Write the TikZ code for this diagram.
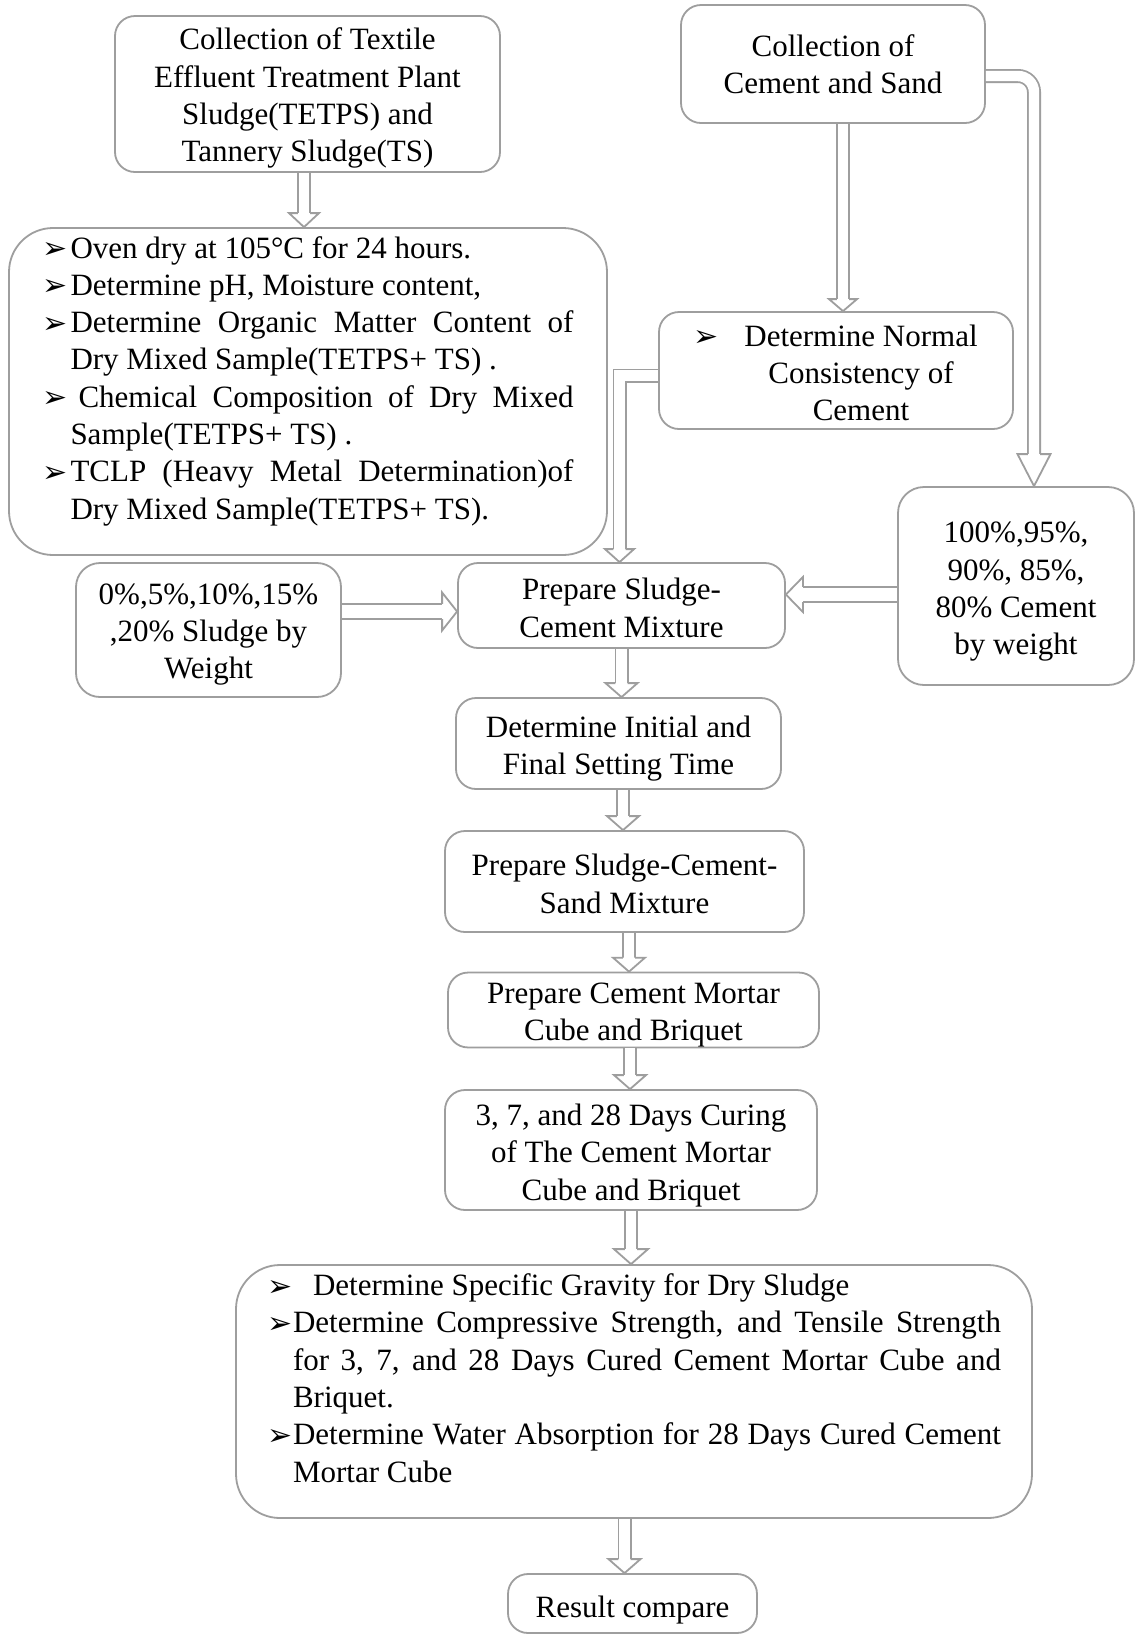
\documentclass[tikz,border=0pt]{standalone}
\usepackage{fontspec}
\setmainfont{Liberation Serif}
\newfontfamily\dvfont{DejaVu Sans}
\usetikzlibrary{calc}
\definecolor{bd}{gray}{0.62}
\newcommand\bulsym{{\dvfont\fontsize{15}{12}\selectfont\raisebox{-0.3pt}{➢}}}
\newcommand\bulw[1]{\makebox[#1][l]{\bulsym}}
\newcommand\lo[1]{\rule{0pt}{#1}}
\tikzset{
  box/.style={draw=bd, line width=0.9pt, rounded corners=10pt, inner sep=0pt, align=center,
    font=\fontsize{15.5}{18.65}\selectfont, fill=white},
  tube/.style={draw=bd, line width=0.9pt, double=white, double distance=5.2pt, line join=miter},
  wtube/.style={draw=bd, line width=0.9pt, double=white, double distance=6.7pt},
  pics/ahead/.style n args={3}{code={
    \fill[white] (0,0) -- (-#1,#2) -- (-#1,-#2) -- cycle;
    \draw[draw=bd, line width=0.9pt, line join=miter] (-#1,#3) -- (-#1,#2) -- (0,0) -- (-#1,-#2) -- (-#1,-#3);
  }},
}
\newcommand\vdown[4]{%
  \draw[tube] (#1) -- ($(#2)+(0,{#3-0.6pt})$);
  \pic[rotate=-90] at (#2) {ahead={#3}{#4}{3.05pt}};
}
\begin{document}
\begin{tikzpicture}[x=0.5pt,y=-0.5pt]
\fill[white] (0,0) rectangle (1135,1635);
\useasboundingbox (0,0) rectangle (1135,1635);

% boxes
\node[box, minimum width=192.5pt, minimum height=78pt] (t1) at (307.5,94)
  {\lo{15pt}Collection of Textile\\Effluent Treatment Plant\\Sludge(TETPS) and\\Tannery Sludge(TS)};
\node[box, minimum width=152pt, minimum height=59pt] (cs) at (833,64)
  {Collection of\\Cement and Sand};
\node[box, rounded corners=22pt, minimum width=299pt, minimum height=163.5pt] (ov) at (308,391.5)
  {\parbox{265.5pt}{\raggedright
   \bulw{14pt}Oven dry at 105°C for 24 hours.\\
   \bulw{14pt}Determine pH, Moisture content,\\
   \bulw{14pt}\makebox[251.5pt][s]{Determine Organic Matter Content of}\\
   \hspace*{14pt}Dry Mixed Sample(TETPS+ TS) .\\
   \bulw{14pt}\makebox[251.5pt][s]{\hspace{4pt}Chemical Composition of Dry Mixed}\\
   \hspace*{14pt}Sample(TETPS+ TS) .\\
   \bulw{14pt}\makebox[251.5pt][s]{TCLP (Heavy Metal Determination)of}\\
   \hspace*{14pt}Dry Mixed Sample(TETPS+ TS).\par\vspace*{10.5pt}}};
\node[box, minimum width=177pt, minimum height=58.5pt] (nc) at (836,370.5)
  {\hspace*{25pt}\llap{\bulsym\hspace{13pt}}\lo{13pt}Determine Normal\\
   \hspace*{25pt}Consistency of\\
   \hspace*{25pt}Cement};
\node[box, rounded corners=13pt, minimum width=118pt, minimum height=99pt] (cp) at (1016,586)
  {\lo{16pt}100\%,95\%,\\90\%, 85\%,\\80\% Cement\\by weight};
\node[box, rounded corners=12pt, minimum width=132.5pt, minimum height=67pt] (sp) at (208.5,630)
  {\lo{15pt}0\%,5\%,10\%,15\%\\,20\% Sludge by\\Weight};
\node[box, minimum width=163.5pt, minimum height=42.5pt] (psc) at (621.5,605.5)
  {\lo{13pt}Prepare Sludge-\\Cement Mixture};
\node[box, minimum width=162.5pt, minimum height=45.5pt] (ift) at (618.5,743.5)
  {\lo{16pt}Determine Initial and\\Final Setting Time};
\node[box, minimum width=179.5pt, minimum height=50.5pt] (scs) at (624.5,881.5)
  {\lo{13pt}Prepare Sludge-Cement-\\Sand Mixture};
\node[box, minimum width=185.5pt, minimum height=36pt] (mc) at (633.5,1010)
  {\lo{15.5pt}Prepare Cement Mortar\\Cube and Briquet};
\node[box, minimum width=186pt, minimum height=60pt] (cur) at (631,1150)
  {\lo{16pt}3, 7, and 28 Days Curing\\of The Cement Mortar\\Cube and Briquet};
\node[box, rounded corners=22pt, minimum width=398pt, minimum height=126.5pt] (big) at (634,1391.5)
  {\parbox{367pt}{\raggedright
   \bulw{13pt}\hspace{10pt}Determine Specific Gravity for Dry Sludge\\
   \bulw{13pt}\makebox[354pt][s]{Determine Compressive Strength, and Tensile Strength}\\
   \hspace*{13pt}\makebox[354pt][s]{for 3, 7, and 28 Days Cured Cement Mortar Cube and}\\
   \hspace*{13pt}Briquet.\\
   \bulw{13pt}\makebox[354pt][s]{Determine Water Absorption for 28 Days Cured Cement}\\
   \hspace*{13pt}Mortar Cube\par\vspace*{13.5pt}}};
\node[box, minimum width=124.5pt, minimum height=29.5pt] (res) at (632.5,1603.5)
  {\lo{17.5pt}Result compare};

% connectors
\coordinate (a1s) at ($(t1.south)+(-3.5,0)$);
\coordinate (a1t) at (a1s |- ov.north);
\vdown{a1s}{a1t}{7pt}{7.5pt}

\coordinate (a2s) at ($(cs.south)+(10,0)$);
\coordinate (a2t) at (a2s |- nc.north);
\vdown{a2s}{a2t}{6pt}{7pt}

\coordinate (a3s) at ($(cs.east)+(0,12)$);
\coordinate (a3t) at ($(cp.north)+(18,0)$);
\draw[tube, rounded corners=8pt] (a3s) -| ($(a3t)+(0,{16pt-0.6pt})$);
\pic[rotate=-90] at (a3t) {ahead={16pt}{8.25pt}{3.05pt}};

\coordinate (a4s) at ($(nc.west)+(0,5)$);
\coordinate (a4t) at ($(psc.north)+(-2,0)$);
\draw[tube] (a4s) -| ($(a4t)+(0,{6.5pt-0.6pt})$);
\pic[rotate=-90] at (a4t) {ahead={6.5pt}{7.25pt}{3.05pt}};

\coordinate (a5s) at ($(sp.east)+(0,-18.5)$);
\coordinate (a5t) at (a5s -| psc.west);
\draw[wtube] (a5s) -- ($(a5t)+({-7.5pt+0.6pt},0)$);
\pic at (a5t) {ahead={7.5pt}{9.5pt}{3.8pt}};

\coordinate (a6s) at ($(cp.west)+(0,8.5)$);
\coordinate (a6t) at (a6s -| psc.east);
\draw[wtube] (a6s) -- ($(a6t)+({8.5pt-0.6pt},0)$);
\pic[rotate=180] at (a6t) {ahead={8.5pt}{8.75pt}{3.8pt}};

\coordinate (a7s) at (psc.south);
\coordinate (a7t) at (a7s |- ift.north);
\vdown{a7s}{a7t}{7pt}{8pt}

\coordinate (a8s) at ($(ift.south)+(4.5,0)$);
\coordinate (a8t) at (a8s |- scs.north);
\vdown{a8s}{a8t}{7pt}{8pt}

\coordinate (a9s) at ($(scs.south)+(4.5,0)$);
\coordinate (a9t) at (a9s |- mc.north);
\vdown{a9s}{a9t}{7pt}{8pt}

\coordinate (a10s) at ($(mc.south)+(-3.5,0)$);
\coordinate (a10t) at (a10s |- cur.north);
\vdown{a10s}{a10t}{7pt}{8pt}

\coordinate (a11s) at (cur.south);
\coordinate (a11t) at (a11s |- big.north);
\vdown{a11s}{a11t}{7.5pt}{8.5pt}

\coordinate (a12s) at ($(big.south)+(-9.5,0)$);
\coordinate (a12t) at (a12s |- res.north);
\vdown{a12s}{a12t}{7pt}{8pt}
\end{tikzpicture}
\end{document}
